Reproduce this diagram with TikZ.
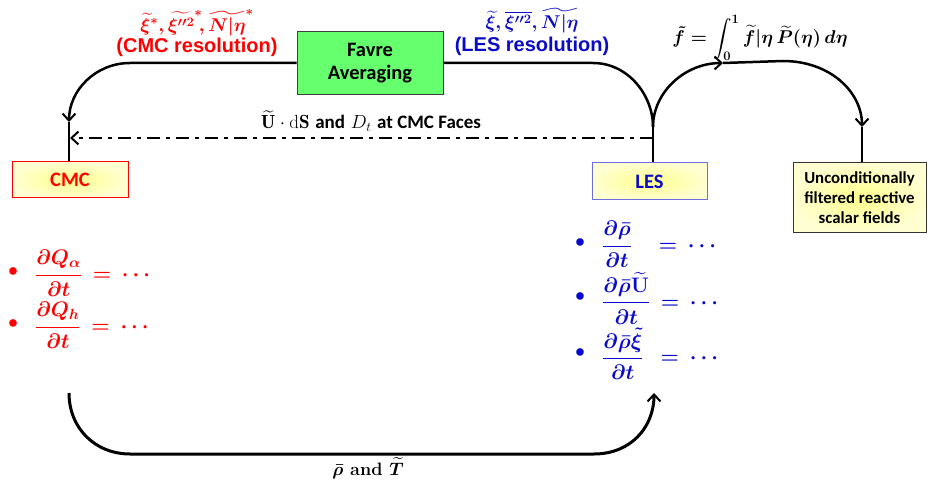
\documentclass[tikz,border=0pt]{standalone}
\usepackage{fix-cm}
\usepackage{fontspec}
\usepackage{amsmath,amssymb}
\usepackage{bm}
\usetikzlibrary{arrows.meta}
\newfontfamily\calfont{Carlito}
\newfontfamily\arialfont{Liberation Sans}
\definecolor{cmcred}{RGB}{255,0,0}
\definecolor{lesblue}{RGB}{10,10,200}
\definecolor{lesborder}{RGB}{110,110,220}
\definecolor{favgreen}{RGB}{102,255,110}
\definecolor{boxyel}{RGB}{255,255,140}
\tikzset{
  conn/.style={line width=2.5pt, black},
  tip/.style={-{Straight Barb[length=7pt,width=13pt,line width=2pt]}},
  favbox/.style={draw=black!75, line width=1pt, fill=favgreen, minimum width=146pt, minimum height=63pt, align=center, inner sep=0pt, font=\calfont\bfseries\fontsize{20.5}{23}\selectfont},
  ybox/.style={line width=1pt, inner color=boxyel, outer color=boxyel!40, align=center, inner sep=0pt},
  cmcbox/.style={ybox, draw=cmcred, text=cmcred, minimum width=116pt, minimum height=36pt, font=\calfont\bfseries\fontsize{20.5}{23}\selectfont},
  lesbox/.style={ybox, draw=lesborder, text=lesblue, minimum width=115pt, minimum height=37pt, font=\calfont\bfseries\fontsize{20.5}{23}\selectfont},
  uncbox/.style={ybox, draw=black!80, text=black, minimum width=133pt, minimum height=70pt, font=\calfont\bfseries\fontsize{16.8}{20}\selectfont},
  reslabel/.style={font=\arialfont\bfseries\fontsize{20}{24}\selectfont},
  mathlabel/.style={font=\fontsize{18.5}{22}\selectfont\boldmath},
  eq/.style={anchor=west, inner sep=0pt, font=\fontsize{21}{25}\selectfont\boldmath},
  bul/.style={inner sep=0pt, font=\fontsize{34}{36}\selectfont},
}
\begin{document}
\begin{tikzpicture}[x=1pt,y=-1pt]
\useasboundingbox (0,0) rectangle (928,486);
% boxes
\node[favbox] (fav) at (370,63) {Favre\\Averaging};
\node[cmcbox] (cmc) at (70,180) {CMC};
\node[lesbox] (les) at (649.5,181.5) {LES};
\node[uncbox] (unc) at (859.5,198) {Unconditionally\\filtered reactive\\scalar fields};
% coordinates
\coordinate (cmcTip) at (69,122);
\coordinate (lesJ) at (653,127);
\coordinate (intTip) at (723,63);
\coordinate (intEnd) at (783,61);
\coordinate (uncTip) at (862,127);
\coordinate (dashR) at (653,138);
\coordinate (dashL) at (70,138);
\coordinate (botL) at (69,393);
\coordinate (botR) at (654,393);
% top-left connector
\draw[conn,tip] (fav.west) -- (130,63) .. controls (96,63) and (69,90) .. (cmcTip);
\draw[conn] (cmcTip) -- (cmcTip |- cmc.north);
% top-right connector
\draw[conn] (fav.east) -- (593,63) .. controls (628,63) and (653,95) .. (lesJ);
\draw[conn] (lesJ) -- (lesJ |- les.north);
\draw[conn,tip] (lesJ) .. controls (653,92) and (685,63) .. (intTip);
\draw[conn] (intTip) -- (intEnd);
\draw[conn,tip] (intEnd) .. controls (830,61) and (862,92) .. (uncTip);
\draw[conn] (uncTip) -- (uncTip |- unc.north);
% dash-dot
\draw[conn,tip,dash pattern=on 13pt off 6pt on 4pt off 6pt] (dashR) -- (dashL);
% bottom
\draw[line width=3pt,tip] (botL) .. controls (69,428) and (95,454) .. (130,454) -- (594,454) .. controls (630,454) and (654,428) .. (botR);
% labels
\node[mathlabel,text=cmcred] (redm) at (197,23) {$\widetilde{\bm\xi}^{*},\widetilde{\bm\xi''^{2}}^{*}\!,\widetilde{\bm N|\bm\eta}^{*}$};
\node[reslabel,text=cmcred] (redr) at (197,47) {(CMC resolution)};
\node[mathlabel,text=lesblue] (bluem) at (532,21) {$\widetilde{\bm\xi},\overline{\bm\xi''^{2}},\widetilde{\bm N|\bm\eta}$};
\node[reslabel,text=lesblue] (bluer) at (532,46) {(LES resolution)};
\node[mathlabel,inner sep=0pt] (integ) at (760,38) {$\displaystyle\tilde{\bm f}=\int_{0}^{1}\widetilde{\bm f|}\bm\eta\,\widetilde{\bm P}(\bm\eta)\,d\bm\eta$};
\node[font=\fontsize{19}{22}\selectfont] (dashlab) at (371,121) {$\widetilde{\mathbf U}\cdot\mathrm{d}\mathbf{S}$ {\calfont\bfseries and} $D_t$ {\calfont\bfseries at CMC Faces}};
\node[font=\fontsize{18}{22}\selectfont\bfseries\boldmath] (botlab) at (368,468) {$\bar{\bm\rho}$ and $\widetilde{\bm T}$};
% left equations
\node[bul,text=cmcred] (bl1) at (13,274) {\textbullet};
\node[eq,text=cmcred] (el1) at (35,273) {$\dfrac{\partial \bm Q_{\bm\alpha}}{\partial \bm t}\,=\,\cdots$};
\node[bul,text=cmcred] (bl2) at (13,326) {\textbullet};
\node[eq,text=cmcred] (el2) at (35,325) {$\dfrac{\partial \bm Q_{\bm h}}{\partial \bm t}\,=\,\cdots$};
% right equations
\node[bul,text=lesblue] (br1) at (580,245) {\textbullet};
\node[eq,text=lesblue] (er1) at (602,244) {$\dfrac{\partial\bar{\bm\rho}}{\partial \bm t}\;\;\;=\,\cdots$};
\node[bul,text=lesblue] (br2) at (580,299) {\textbullet};
\node[eq,text=lesblue] (er2) at (602,298) {$\dfrac{\partial\bar{\bm\rho}\widetilde{\mathbf U}}{\partial \bm t}\,=\,\cdots$};
\node[bul,text=lesblue] (br3) at (580,355) {\textbullet};
\node[eq,text=lesblue] (er3) at (602,354) {$\dfrac{\partial\bar{\bm\rho}\tilde{\bm\xi}}{\partial \bm t}\;\,=\,\cdots$};
\end{tikzpicture}
\end{document}
